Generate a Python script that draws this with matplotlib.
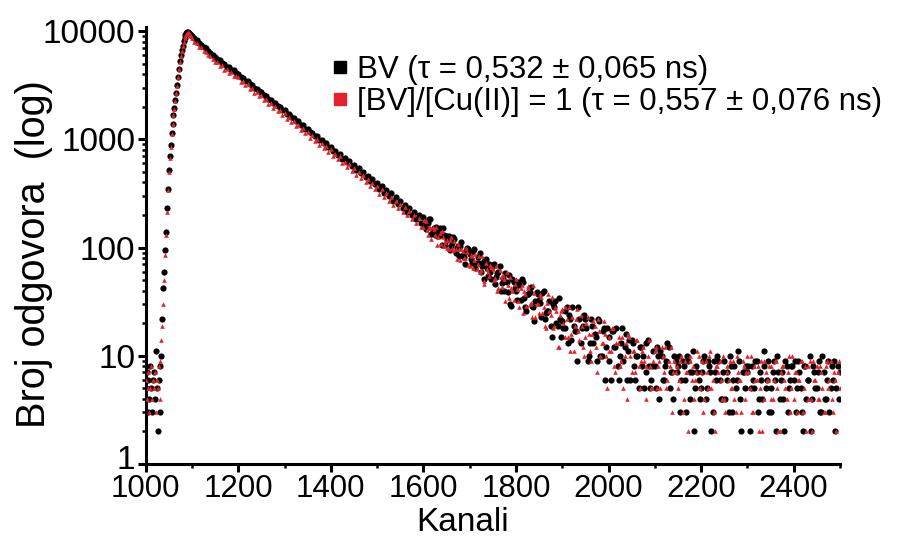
import numpy as np
import matplotlib
matplotlib.use("Agg")
import matplotlib.pyplot as plt
from matplotlib.lines import Line2D
from matplotlib.ticker import LogLocator, MultipleLocator, NullFormatter
from matplotlib.transforms import ScaledTranslation

plt.rcParams["font.family"] = ["Liberation Sans", "DejaVu Sans"]

# kanali (channels): rising edge every 2 channels, decay every 5 channels,
# plus extra channels in the noisy part of the decay
rise_channels = np.arange(1000, 1100, 2)
decay_channels = np.arange(1100, 2501, 5)
tail_channels = np.arange(1602, 2500, 5)

# BV
bv_rise = [5, 7, 3, 6, 4, 8, 5, 3, 6, 7, 4, 11, 5, 2, 6, 3,
           8, 10, 22, 42, 60, 95, 140, 230, 350, 520, 700, 880, 1150, 1400, 1700, 1950,
           2300, 2700, 3200, 3800, 4500, 5300, 6000, 6700, 7400, 8100, 8700, 9200, 9600, 9800,
           9850, 9700, 9450, 9250]
bv_decay = [
    9150, 8600, 8250, 7800, 7560, 7150, 6950, 6550, 6350, 6000,
    5850, 5520, 5400, 5100, 5010, 4720, 4650, 4400, 4350, 4100,
    4050, 3800, 3740, 3510, 3460, 3250, 3200, 3000, 2960, 2780,
    2740, 2570, 2530, 2380, 2340, 2190, 2170, 2030, 2000, 1880,
    1860, 1730, 1710, 1600, 1590, 1480, 1470, 1360, 1360, 1260,
    1250, 1170, 1160, 1080, 1075, 995, 990, 925, 920, 850,
    850, 780, 790, 725, 735, 665, 675, 615, 630, 570,
    580, 525, 540, 485, 500, 450, 462, 412, 428, 385,
    398, 350, 368, 322, 340, 298, 318, 272, 292, 252,
    270, 232, 250, 215, 232, 198, 214, 182, 199, 168,
    190, 150, 168, 182, 144, 131, 142, 152, 106, 132,
    118, 128, 103, 125, 90, 103, 104, 86, 71, 99,
    88, 72, 97, 72, 72, 59, 75, 78, 55, 59,
    67, 46, 58, 67, 47, 40, 48, 56, 29, 48,
    40, 48, 33, 48, 28, 37, 39, 29, 21, 39,
    33, 23, 40, 25, 26, 19, 30, 32, 19, 22,
    21, 18, 28, 24, 14, 19, 17, 28, 13, 19,
    22, 9, 13, 19, 16, 9, 21, 10, 18, 12,
    15, 6, 17, 12, 8, 10, 18, 12, 6, 14,
    14, 8, 10, 5, 12, 10, 7, 14, 5, 8,
    8, 12, 4, 10, 6, 9, 12, 7, 4, 9,
    8, 3, 9, 6, 10, 4, 7, 2, 8, 6,
    5, 9, 4, 9, 7, 3, 7, 10, 6, 4,
    9, 6, 3, 8, 6, 5, 11, 4, 7, 5,
    7, 2, 8, 5, 9, 4, 6, 8, 5, 9,
    3, 7, 6, 10, 4, 7, 2, 8, 5, 8,
    6, 3, 9, 5, 2, 8, 6, 10, 4, 7,
    5, 9, 3, 7, 4, 9, 5, 6, 2, 8, 7]
bv_tail = [
    161, 174, 183, 134, 153, 156, 129, 132, 153, 106,
    128, 95, 111, 120, 99, 83, 113, 82, 92, 97,
    78, 93, 65, 81, 89, 67, 51, 65, 71, 51,
    71, 53, 59, 40, 52, 58, 39, 30, 51, 42,
    33, 45, 51, 34, 26, 37, 43, 28, 32, 37,
    31, 38, 22, 26, 32, 15, 28, 20, 34, 15,
    18, 26, 13, 22, 28, 17, 9, 22, 18, 24,
    18, 10, 22, 13, 15, 22, 10, 17, 6, 18,
    9, 17, 12, 18, 6, 13, 9, 16, 11, 6,
    13, 6, 10, 12, 8, 5, 13, 8, 6, 11,
    5, 10, 11, 6, 8, 13, 5, 7, 10, 7,
    10, 6, 8, 3, 9, 7, 11, 5, 7, 4,
    7, 10, 5, 8, 2, 9, 6, 9, 4, 7,
    4, 7, 10, 3, 8, 6, 9, 2, 7, 8,
    8, 5, 6, 9, 3, 7, 4, 11, 6, 3,
    5, 9, 2, 7, 6, 4, 9, 3, 6, 8,
    9, 5, 7, 3, 8, 4, 6, 2, 8, 5,
    7, 3, 10, 4, 6, 3, 8, 9, 5, 4]

# [BV]/[Cu(II)] = 1
cu_rise = [6, 4, 5, 7, 3, 5, 8, 4, 6, 5, 7, 3, 6, 5, 8, 4,
           9, 14, 19, 30, 50, 85, 130, 215, 340, 500, 680, 860, 1120, 1380, 1680, 1930,
           2280, 2680, 3150, 3750, 4450, 5250, 5950, 6650, 7350, 8050, 8650, 9150, 9550, 9750,
           9800, 9600, 9300, 9000]
cu_decay = [
    8600, 7900, 7750, 7150, 7100, 6550, 6500, 6000, 5950, 5500,
    5200, 5250, 4780, 4850, 4420, 4500, 4100, 4200, 3850, 3900,
    3780, 3420, 3480, 3160, 3230, 2930, 2990, 2700, 2760, 2500,
    2560, 2310, 2360, 2130, 2190, 1970, 2030, 1820, 1870, 1690,
    1740, 1560, 1600, 1440, 1480, 1330, 1370, 1230, 1270, 1140,
    1180, 1040, 1090, 970, 1010, 890, 935, 830, 865, 765,
    810, 705, 740, 660, 700, 600, 625, 560, 595, 515,
    545, 470, 505, 440, 465, 405, 432, 370, 398, 345,
    375, 312, 345, 292, 322, 268, 295, 250, 272, 230,
    255, 214, 236, 198, 220, 183, 202, 168, 188, 156,
    156, 176, 131, 152, 155, 132, 106, 136, 142, 103,
    118, 97, 124, 95, 98, 108, 77, 93, 80, 91,
    67, 84, 76, 63, 83, 62, 46, 72, 60, 69,
    64, 52, 40, 62, 43, 51, 59, 34, 42, 33,
    51, 32, 42, 25, 37, 42, 30, 23, 38, 30,
    25, 35, 28, 18, 37, 24, 18, 28, 12, 24,
    27, 15, 22, 28, 16, 11, 22, 17, 24, 12,
    15, 23, 11, 16, 19, 7, 17, 13, 21, 10,
    15, 11, 18, 7, 13, 8, 15, 10, 4, 15,
    7, 11, 14, 8, 9, 12, 4, 10, 8, 5,
    11, 5, 9, 12, 7, 5, 9, 12, 7, 7,
    5, 9, 3, 9, 7, 10, 6, 4, 7, 10,
    7, 3, 9, 5, 11, 6, 2, 8, 9, 4,
    4, 8, 6, 5, 9, 3, 7, 6, 9, 4,
    10, 5, 3, 8, 6, 2, 9, 4, 7, 6,
    8, 4, 9, 5, 2, 8, 6, 4, 10, 5,
    4, 7, 6, 9, 3, 8, 4, 9, 2, 6,
    8, 4, 7, 3, 8, 5, 9, 3, 6, 7, 5]
cu_tail = [
    179, 146, 154, 121, 150, 155, 124, 109, 126, 113,
    99, 118, 99, 114, 78, 97, 97, 80, 100, 69,
    85, 65, 87, 70, 59, 83, 49, 63, 54, 66,
    50, 68, 42, 53, 56, 32, 45, 53, 40, 46,
    41, 28, 45, 40, 29, 44, 31, 45, 23, 30,
    37, 25, 19, 31, 26, 35, 19, 26, 12, 26,
    20, 28, 15, 11, 23, 19, 27, 14, 19, 10,
    20, 16, 9, 21, 12, 22, 10, 13, 16, 5,
    11, 18, 8, 13, 15, 9, 5, 13, 16, 10,
    11, 7, 14, 5, 11, 9, 8, 14, 5, 9,
    12, 8, 5, 10, 12, 6, 8, 3, 9, 8,
    6, 10, 4, 7, 2, 9, 8, 6, 11, 5,
    9, 4, 7, 10, 5, 3, 8, 7, 6, 10,
    3, 7, 9, 5, 4, 10, 6, 3, 8, 7,
    7, 10, 3, 6, 8, 5, 2, 9, 6, 8,
    4, 6, 9, 2, 7, 8, 5, 7, 3, 10,
    7, 3, 6, 9, 5, 2, 8, 4, 9, 6,
    4, 8, 5, 3, 9, 6, 4, 7, 2, 9]

labels = ["BV (\u03c4 = 0,532 \u00b1 0,065 ns)",
          "[BV]/[Cu(II)] = 1 (\u03c4 = 0,557 \u00b1 0,076 ns)"]
red = "#e52229"

kanali = np.concatenate([rise_channels, decay_channels, tail_channels])
bv = np.concatenate([bv_rise, bv_decay, bv_tail])
cu = np.concatenate([cu_rise, cu_decay, cu_tail])

fig = plt.figure(figsize=(9.22, 5.38), dpi=100)
ax = fig.add_axes([0.158, 0.138, 0.753, 0.812])

ax.scatter(kanali, bv, s=20, color="black", marker="o", linewidths=0, zorder=3)
ax.scatter(kanali, cu, s=11, color=red, marker="^", linewidths=0, zorder=4)

ax.set_yscale("log")
ax.set_xlim(1000, 2500)
ax.set_ylim(1, 11000)
ax.set_yticks([1, 10, 100, 1000, 10000])
ax.set_yticklabels(["1", "10", "100", "1000", "10000"])
ax.yaxis.set_minor_locator(LogLocator(base=10, subs=np.arange(2, 10)))
ax.yaxis.set_minor_formatter(NullFormatter())
ax.xaxis.set_major_locator(MultipleLocator(200))
ax.xaxis.set_minor_locator(MultipleLocator(100))

for s in ["top", "right"]:
    ax.spines[s].set_visible(False)
for s in ["left", "bottom"]:
    ax.spines[s].set_linewidth(2.2)

ax.tick_params(which="major", length=5.5, width=2.2, pad=2)
ax.tick_params(axis="y", which="major", labelsize=24)
ax.tick_params(axis="x", which="major", labelsize=22.5)
ax.tick_params(which="minor", length=3, width=1.8)

# lift the "1" label a little so it clears the "1000" below it
lab1 = ax.yaxis.get_major_ticks()[0].label1
lab1.set_transform(lab1.get_transform() + ScaledTranslation(0, 5 / 72, fig.dpi_scale_trans))

ax.set_xlabel("Kanali", fontsize=24)
ax.xaxis.set_label_coords(0.457, -0.1)
ax.set_ylabel("Broj odgovora  (log)", fontsize=28.5)
ax.yaxis.set_label_coords(-0.133, 0.48)

handles = [Line2D([], [], marker="s", linestyle="none", color="black", markersize=9),
           Line2D([], [], marker="s", linestyle="none", color=red, markersize=9)]
ax.legend(handles, labels, loc="upper left", bbox_to_anchor=(0.257, 0.935),
          frameon=False, fontsize=22.5, handletextpad=0.05, handlelength=1.0,
          labelspacing=0.05, borderaxespad=0, borderpad=0)

fig.savefig("out.png", dpi=100)
